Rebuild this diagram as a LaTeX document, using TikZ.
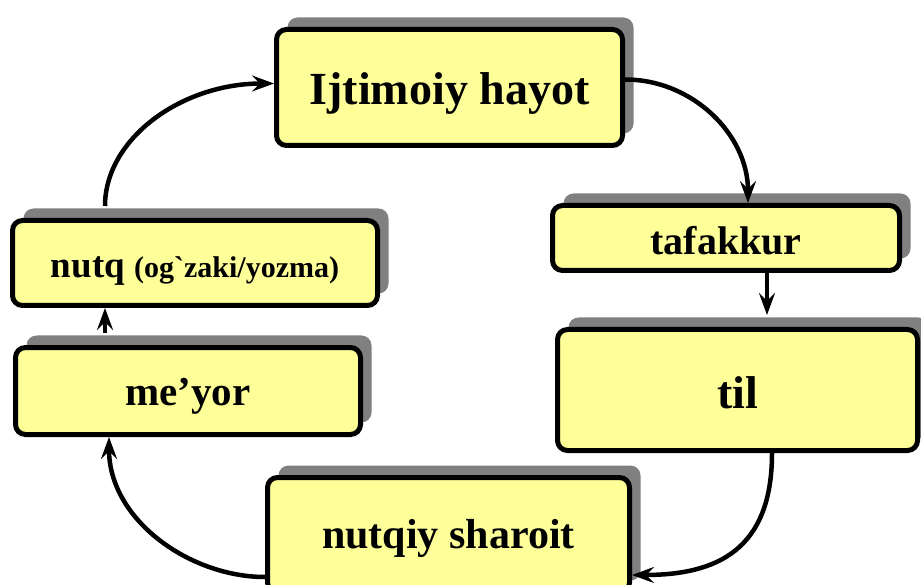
\documentclass[tikz,border=0pt]{standalone}
\usepackage{fontspec}
\setmainfont{Liberation Serif}[Ligatures=TeXOff]
\usetikzlibrary{arrows.meta,shadows,calc}
\definecolor{boxyellow}{HTML}{FFFF99}
\definecolor{shadowgray}{HTML}{808080}
\begin{document}
\begin{tikzpicture}[x=1pt,y=-1pt,
  box/.style={draw=black, line width=5pt, fill=boxyellow, rounded corners=10pt,
    general shadow={fill=shadowgray, shadow xshift=11pt, shadow yshift=12pt},
    text depth=0pt, inner sep=0pt, align=center},
  fs/.style={font=\bfseries\fontsize{#1}{#1}\selectfont},
  conn/.style={line width=4.5pt, -{Stealth[length=22pt,width=16pt,inset=8pt]}}]
\useasboundingbox (0,0) rectangle (921,585);
\clip (0,0) rectangle (921,585);

\node[box, fs=46, text height=35pt, minimum width=346pt, minimum height=116pt] (ijt) at (449.5,87.5) {Ijtimoiy hayot};
\node[box, fs=40, text height=34pt, minimum width=347pt, minimum height=65pt] (taf) at (726,238) {tafakkur};
\node[box, fs=46, text height=36pt, minimum width=360pt, minimum height=121pt] (til) at (737.5,390) {til};
\node[box, fs=37, text height=30pt, minimum width=365pt, minimum height=85pt] (nutq) at (195,263) {nutq {\fontsize{30}{30}\selectfont (og`zaki/yozma)}};
\node[box, fs=41, text height=28pt, minimum width=345pt, minimum height=87pt] (meyor) at (188,391) {me’yor};
\node[box, fs=42, text height=26pt, minimum width=362pt, minimum height=115pt] (shar) at (448.5,535) {nutqiy sharoit};

\draw[conn] ($(nutq.north)+(-90,-12)$) .. controls +(0,-67) and +(-93,0) .. ($(ijt.west)+(0,-4)$);
\draw[conn] ($(ijt.east)+(0,-8)$) .. controls +(68,0) and +(0,-68) .. ($(taf.north)+(22,0)$);
\draw[conn] ($(taf.south)+(41,0)$) -- ($(taf.south |- til.north)+(41,-12)$);
\draw[conn] ($(til.south)+(34.5,0)$) .. controls +(0,97) and +(85,0) .. ($(shar.east)+(0,40)$);
\draw[conn] ($(shar.west)+(0,42)$) .. controls +(-75,0) and +(0,83) .. ($(meyor.south)+(-79,0)$);
\draw[conn] ($(meyor.north)+(-83,-12)$) -- ($(nutq.south)+(-90,0)$);
\end{tikzpicture}
\end{document}
